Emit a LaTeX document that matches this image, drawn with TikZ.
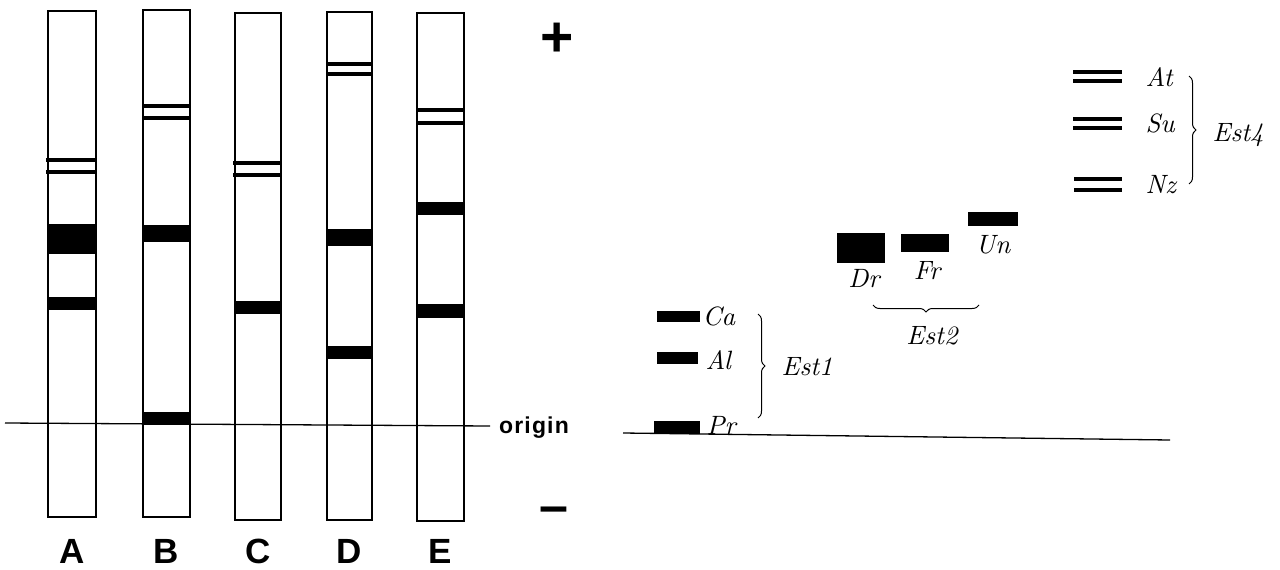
\documentclass[tikz,border=0pt]{standalone}
\usepackage{fontspec}
\setsansfont{Liberation Sans}
\usetikzlibrary{decorations.pathreplacing}
\begin{document}
\begin{tikzpicture}[x=1pt,y=-1pt,
  lane/.style={draw, line width=1.8pt},
  band/.style={fill=black},
  dbl/.style={line width=3.5pt},
  base/.style={line width=1.3pt},
  lbl/.style={font=\itshape, inner sep=0pt, scale=2.65, transform shape},
  lanelbl/.style={font=\fontsize{35}{37}\selectfont\sffamily\bfseries, inner sep=0pt},
  brc/.style={decorate, decoration={brace, amplitude=7pt}, line width=1pt},
]
\useasboundingbox (0,0) rectangle (1280,570);

% ---------- gel lanes ----------
\draw[base] (5,423) -- (490,426);
\draw[lane] (48,11) rectangle (96,517);
\draw[lane] (143,10) rectangle (190,517);
\draw[lane] (235,13) rectangle (281,520);
\draw[lane] (327,12) rectangle (372,520);
\draw[lane] (417,13) rectangle (464,521);

% lane A
\draw[dbl] (46,160) -- (96,160);
\draw[dbl] (46,172) -- (96,172);
\fill[band] (48,224) rectangle (96,254);
\fill[band] (48,297) rectangle (96,310);
% lane B
\draw[dbl] (143,106) -- (190,106);
\draw[dbl] (143,118) -- (190,118);
\fill[band] (143,225) rectangle (190,242);
\fill[band] (143,412) rectangle (190,425);
% lane C
\draw[dbl] (233,163) -- (281,163);
\draw[dbl] (233,175) -- (281,175);
\fill[band] (235,301) rectangle (281,314);
% lane D
\draw[dbl] (327,64) -- (372,64);
\draw[dbl] (327,74) -- (372,74);
\fill[band] (327,229) rectangle (372,246);
\fill[band] (327,346) rectangle (372,359);
% lane E
\draw[dbl] (417,110) -- (464,110);
\draw[dbl] (417,123) -- (464,123);
\fill[band] (417,202) rectangle (464,215);
\fill[band] (417,304) rectangle (464,318);

\node[lanelbl] (la) at (72,551) {A};
\node[lanelbl] (lb) at (166,551) {B};
\node[lanelbl] (lc) at (258,551) {C};
\node[lanelbl] (ld) at (349,551) {D};
\node[lanelbl] (le) at (440,551) {E};

\node[font=\fontsize{23}{25}\selectfont\sffamily\bfseries\addfontfeatures{LetterSpace=5}, inner sep=0pt] (orig) at (534,428) {origin};
\node[font=\fontsize{57}{59}\selectfont\sffamily\bfseries, inner sep=0pt] (plus) at (557,40) {+};
\node[font=\fontsize{52}{54}\selectfont\sffamily\bfseries, inner sep=0pt] (minus) at (554,515) {\textendash};

% ---------- schematic of isozymes ----------
\draw[base] (623,433) -- (1170,440);

% Est1
\fill[band] (657,311) rectangle (700,322);
\fill[band] (657,352) rectangle (698,364);
\fill[band] (654,421) rectangle (700,434);
\node[lbl, anchor=west] (ca) at (702,316) {Ca};
\node[lbl, anchor=west] (al) at (705,360) {Al};
\node[lbl, anchor=west] (pr) at (706,426) {Pr};
\coordinate (e1t) at (758,314);
\coordinate (e1b) at (758,418);
\draw[brc] (e1t) -- (e1b);
\node[lbl, anchor=west] (est1) at (781,367) {Est1};

% Est2
\fill[band] (837,233) rectangle (885,263);
\fill[band] (901,234) rectangle (949,252);
\fill[band] (968,212) rectangle (1018,226);
\node[lbl] (dr) at (864,279) {Dr};
\node[lbl] (fr) at (927,271) {Fr};
\node[lbl] (un) at (993,245) {Un};
\coordinate (e2r) at (979,305);
\coordinate (e2l) at (873,305);
\draw[brc] (e2r) -- (e2l);
\node[lbl] (est2) at (932,336) {Est2};

% Est4
\draw[dbl] (1073,72) -- (1122,72);
\draw[dbl] (1073,81) -- (1122,81);
\draw[dbl] (1073,119) -- (1122,119);
\draw[dbl] (1073,128) -- (1122,128);
\draw[dbl] (1074,179) -- (1122,179);
\draw[dbl] (1074,190) -- (1122,190);
\node[lbl, anchor=west] (at) at (1145,77) {At};
\node[lbl, anchor=west] (su) at (1145,123) {Su};
\node[lbl, anchor=west] (nz) at (1145,185) {Nz};
\coordinate (e4t) at (1189,76);
\coordinate (e4b) at (1189,184);
\draw[brc] (e4t) -- (e4b);
\node[lbl, anchor=west] (est4) at (1212,135) {Est4};
\end{tikzpicture}
\end{document}
